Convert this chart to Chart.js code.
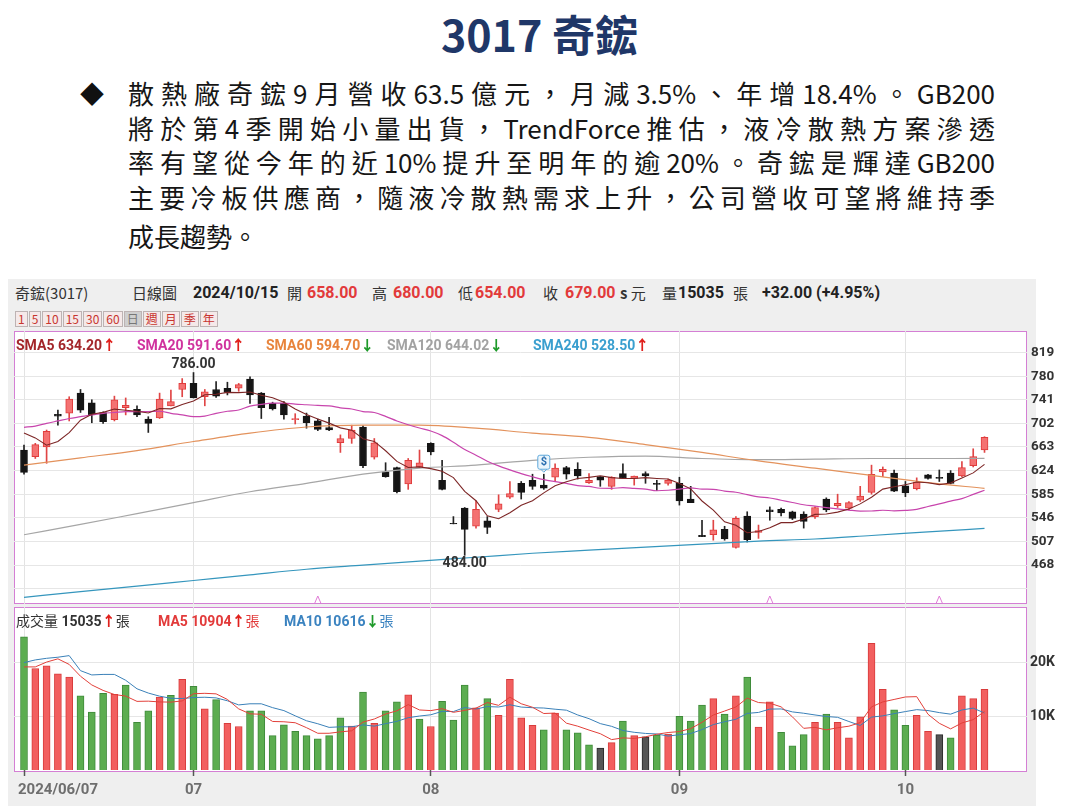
<!DOCTYPE html>
<html lang="zh-Hant">
<head>
<meta charset="utf-8">
<title>3017 奇鋐</title>
<script src="https://cdn.jsdelivr.net/npm/chart.js@4.4.1/dist/chart.umd.min.js"></script>
<style>
  html, body { margin: 0; padding: 0; }
  body { width: 1079px; height: 806px; position: relative; overflow: hidden; background: #fff;
         font-family: "Noto Sans CJK TC", "Noto Sans", sans-serif; }
  .abs { position: absolute; white-space: nowrap; }
  #title { left: 0; top: 5px; width: 1079px; text-align: center; font-size: 43px; font-weight: 700;
           color: #1f3768; line-height: 56px; }
  #bullet { left: 80px; top: 78px; font-size: 24px; line-height: 30px; color: #111; }
  .para { position: absolute; left: 128px; width: 867px; height: 36px; line-height: 36px; font-size: 26px;
          color: #161616; text-align: justify; text-align-last: justify; }
  .para.last { text-align-last: left; }
  #board { left: 8px; top: 279px; width: 1028px; height: 527px; background: #efefef; }
  .panel { position: absolute; box-sizing: border-box; border: 1.5px solid #d47fd4; background: #fff; }
  #pp { left: 14px; top: 331px; width: 1013px; height: 273px; }
  #vp { left: 14px; top: 607px; width: 1013px; height: 165px; }
  canvas { position: absolute; }
  #price { left: 14px; top: 331px; width: 1056px; height: 273px; }
  #vol { left: 14px; top: 607px; width: 1056px; height: 199px; }
  .info { top: 283px; font-size: 15px; line-height: 20px; color: #333; }
  .num { font-family: Roboto, sans-serif; font-weight: 700; font-size: 16px; }
  .red { color: #e23a3a; }
  #periods { left: 15px; top: 311px; font-size: 12px; line-height: 14px; }
  #periods span { display: inline-block; border: 1px solid #bdb3b3; background: #f5e9e9; color: #c8352f;
                  padding: 0 2px; margin-right: 1px; }
  #periods span.on { background: #cfcfcf; color: #777; }
  .lg { top: 336px; font-family: Roboto, "Noto Sans CJK TC", sans-serif; font-weight: 700; font-size: 14px; line-height: 18px; }
  .vl { top: 612px; font-family: Roboto, "Noto Sans CJK TC", sans-serif; font-size: 14px; line-height: 18px; }
  .up { color: #e0201c; font-weight: 900; }
  .dn { color: #1e9a2a; font-weight: 900; }
</style>
</head>
<body>
<div id="title" class="abs">3017 奇鋐</div>
<div id="bullet" class="abs">◆</div>
<div class="para" style="top:75px">散熱廠奇鋐9月營收63.5億元，月減3.5%、年增18.4%。GB200</div>
<div class="para" style="top:110px">將於第4季開始小量出貨，TrendForce推估，液冷散熱方案滲透</div>
<div class="para" style="top:144px">率有望從今年的近10%提升至明年的逾20%。奇鋐是輝達GB200</div>
<div class="para" style="top:179px">主要冷板供應商，隨液冷散熱需求上升，公司營收可望將維持季</div>
<div class="para last" style="top:218px">成長趨勢。</div>

<div id="board" class="abs"></div>
<div class="abs info" style="left:15px">奇鋐(3017)</div>
<div class="abs info" style="left:132px">日線圖</div>
<div class="abs info num" style="left:193px;color:#222">2024/10/15</div>
<div class="abs info" style="left:287px">開</div>
<div class="abs info num red" id="iO" style="left:307px"></div>
<div class="abs info" style="left:372px">高</div>
<div class="abs info num red" id="iH" style="left:393px"></div>
<div class="abs info" style="left:458px">低</div>
<div class="abs info num red" id="iL" style="left:475px"></div>
<div class="abs info" style="left:543px">收</div>
<div class="abs info num red" id="iC" style="left:565px"></div>
<div class="abs info" style="left:620px"><b>s</b> 元</div>
<div class="abs info" style="left:662px">量</div>
<div class="abs info num" id="iV" style="left:678px;color:#222"></div>
<div class="abs info" style="left:733px">張</div>
<div class="abs info num" id="iD" style="left:762px;color:#222"></div>
<div id="periods" class="abs"><span>1</span><span>5</span><span>10</span><span>15</span><span>30</span><span>60</span><span class="on">日</span><span>週</span><span>月</span><span>季</span><span>年</span></div>

<div id="pp" class="panel"></div>
<div id="vp" class="panel"></div>
<canvas id="price" width="1056" height="273"></canvas>
<canvas id="vol" width="1056" height="199"></canvas>

<div class="abs lg" id="l5" style="left:16px;color:#a3262a"></div>
<div class="abs lg" id="l20" style="left:137px;color:#d0329e"></div>
<div class="abs lg" id="l60" style="left:266px;color:#e8843c"></div>
<div class="abs lg" id="l120" style="left:387px;color:#a2a2a2"></div>
<div class="abs lg" id="l240" style="left:533px;color:#3a9fcf"></div>
<div class="abs vl" id="vl0" style="left:16px;color:#333"></div>
<div class="abs vl" id="vl5" style="left:158px;color:#e23a3a;font-weight:700"></div>
<div class="abs vl" id="vl10" style="left:284px;color:#3b83c0;font-weight:700"></div>

<script>
// trading days 2024/06/07 - 2024/10/15
const dates = [
  '06/07','06/11','06/12','06/13','06/14','06/17','06/18','06/19','06/20','06/21',
  '06/24','06/25','06/26','06/27','06/28','07/01','07/02','07/03','07/04','07/05',
  '07/08','07/09','07/10','07/11','07/12','07/15','07/16','07/17','07/18','07/19',
  '07/22','07/23','07/26','07/29','07/30','07/31','08/01','08/02','08/05','08/06',
  '08/07','08/08','08/09','08/12','08/13','08/14','08/15','08/16','08/19','08/20',
  '08/21','08/22','08/23','08/26','08/27','08/28','08/29','08/30','09/02','09/03',
  '09/04','09/05','09/06','09/09','09/10','09/11','09/12','09/13','09/16','09/18',
  '09/19','09/20','09/23','09/24','09/25','09/26','09/27','09/30','10/01','10/04',
  '10/07','10/08','10/09','10/11','10/14','10/15'
];
const opens = [658,647,663,717,719,752,736,720,708,728, 725,709,711,731,758,768,746,758,760,760,
  775,752,735,735,708,714,706,695,670,677, 696,646,622,629,602,630,669,608,537,562,
  532,541,560,580,603,608,600,613,629,626, 604,614,598,619,611,619,603,603,603,577,
  517,518,527,497,549,522,559,560,556,552, 548,577,566,562,575,588,622,620,599,594,
  617,613,620,615,632,658];
const highs = [666,669,691,724,746,758,741,721,747,744, 731,713,752,757,776,786,758,771,770,768,
  779,753,737,738,718,719,709,712,683,699, 698,677,637,630,644,658,670,641,548,563,
  574,548,584,606,606,618,618,635,631,637, 619,614,614,635,615,622,608,610,613,598,
  542,542,532,548,556,534,564,562,557,556, 564,579,585,573,598,633,630,625,606,612,
  618,625,624,639,660,680];
const lows = [618,644,636,699,706,720,703,702,706,716, 713,687,710,731,746,744,731,745,749,755,
  735,710,724,709,701,694,690,690,654,669, 629,643,613,587,593,629,650,592,536,484,
  529,520,556,578,577,593,593,606,610,610, 603,598,593,611,600,603,591,600,567,571,
  515,509,509,496,506,512,542,549,543,529, 545,556,563,559,573,585,614,589,581,592,
  610,606,602,614,630,654];
const closes = [621,667,689,714,742,724,716,705,741,732, 716,702,742,738,768,744,754,747,753,766,
  749,728,726,716,710,703,692,691,677,691, 632,670,614,589,641,637,655,593,536,527,
  560,530,569,586,588,598,595,628,618,615, 608,608,613,611,615,615,601,608,574,571,
  515,526,511,545,510,525,556,554,545,540, 563,559,570,571,582,618,626,590,587,605,
  611,611,603,629,647,679];
const volumes = [24800,18900,19400,17900,17300,13800,10800,14300,14100,15800,
  8900,11000,13600,13900,16900,15600,11400,13100,8700,8100,
  11000,11000,6400,8400,7200,6400,5800,6400,9700,8200,
  14500,8700,11000,12700,14000,9500,8100,12800,9300,15800,
  11600,13300,10200,16900,9700,8300,7500,10600,7500,6900,
  4700,4100,5100,9100,6400,6200,6500,6700,10000,9100,
  12100,13300,10400,13800,17300,8000,12700,7000,4500,6600,
  8900,10400,8900,6000,9900,23600,15000,11200,8300,10200,
  7200,6600,6000,13800,13300,15035];

// moving averages
const sma5 = [686,678,666,672,686.6,707.2,717,720.2,725.6,723.6,
  722,719.2,726.6,726,733.2,738.8,749.2,750.2,753.2,752.8,
  753.8,748.6,744.4,737,725.8,716.6,709.4,702.4,694.6,690.8,
  676.6,672.2,656.8,639.2,629.2,630.2,627.2,623,612.4,589.6,
  574.2,549.2,544.4,554.4,566.6,574.2,587.2,599,605.4,610.8,
  612.8,615.4,612.4,611,611,612.4,611,610,602.6,593.8,
  573.8,558.8,539.4,533.6,521.4,523.4,529.4,538,538,544,
  551.6,552.2,555.4,560.6,569,580,593.4,597.4,600.6,605.2,
  603.8,600.8,603.4,611.8,620.2,634.2];
const sma20 = [695.5,697.6,702,706,710,713,716,718.6,720,721.5,
  721.5,721.5,722,718.6,716,713,714,718.6,722,724.1,
  730.5,733.5,735.4,735.5,733.9,732.8,731.6,730.9,727.7,725.7,
  721.5,719.9,713.5,706,699.7,694.3,689.4,681.7,670.8,658.9,
  649.4,639.5,631.7,625.2,619.1,613.8,609,605.8,602.9,599.1,
  597.9,594.8,594.7,595.8,594.5,593.4,590.7,591.5,593.4,595.6,
  593.3,593.1,590.2,588.2,584.3,580.6,578.7,575,571.3,567.6,
  565.3,562.9,560.7,558.7,557.1,557.2,558.5,557.6,558.2,559.9,
  564.7,569,573.6,577.8,584.6,591.6];
// long averages, read every 5th day
const longDays = [0,5,10,15,20,25,30,35,40,45,50,55,60,65,70,75,80,85];
const sma60  = [633,645,657,672,686,696,699,699,694,686,679,667,654,640,628,616,604,594.7];
const sma120 = [518,535,553,571,589,603,618,628,633,641,646,648,644,642,643,644,644,644.02];
const sma240 = [414.6,424,433,442.4,451.8,461,467.7,474.3,480.8,487.4,492.5,497.5,502.5,507.5,511,516.8,522.7,528.5];

const volMA5 = [19200,19200,20100,20700,19660,17460,15840,14820,14060,13760,
  12780,12820,12680,12640,12860,14200,14280,14180,13140,11380,
  10460,10380,9040,8980,8800,7880,6840,6840,7100,7300,
  8920,9500,10420,11020,12180,11180,11060,11420,10740,11100,
  11520,12560,12040,13560,12340,11680,10520,10600,8720,8160,
  7440,6760,5660,5980,5880,6180,6660,6980,7160,7700,
  8880,10240,10980,11740,13380,12560,12440,11760,9900,7760,
  7940,7480,7860,8160,8820,11760,12680,13140,13600,13660,
  10380,8700,7660,8760,9380,10904];
const volMA10 = [20000,20500,20800,21000,21300,18500,17700,17800,17800,16710,
  15120,14330,13750,13350,13310,13490,13550,13430,12890,12120,
  12330,12330,11610,11060,10090,9170,8610,7940,8040,8050,
  8400,8170,8630,9060,9740,10050,10280,10920,10880,11640,
  11350,11810,11730,12150,11720,11600,11540,11320,11140,10250,
  9560,8640,8130,7350,7020,6810,6710,6320,6570,6790,
  7530,8450,8980,9450,10540,10720,11340,11370,10820,10570,
  10250,9960,9810,9030,8290,9850,10080,10500,10880,11240,
  11070,10690,10400,11180,11520,10616];

const priceGrid = [429,468,507,546,585,624,663,702,741,780,819];
const volTicks = [10000,20000];
const xTickLabels = ['2024/06/07','07','08','09','10'];
const dividendDay = 46;
const markDays = [26,66,81];

const days = dates.map((d, i) => i);
const monthIdx = days.filter(i => i === 0 || dates[i].slice(0, 2) !== dates[i - 1].slice(0, 2));
const xMin = -0.885, xMax = 88.76;

// info bar and legends from the data
const last = days.length - 1;
const f2 = v => v.toFixed(2);
document.getElementById('iO').textContent = f2(opens[last]);
document.getElementById('iH').textContent = f2(highs[last]);
document.getElementById('iL').textContent = f2(lows[last]);
document.getElementById('iC').textContent = f2(closes[last]);
document.getElementById('iV').textContent = volumes[last];
const chg = closes[last] - closes[last - 1];
document.getElementById('iD').textContent = '+' + f2(chg) + ' (+' + f2(chg / closes[last - 1] * 100) + '%)';
const UP = '<span class="up">↑</span>', DN = '<span class="dn">↓</span>';
document.getElementById('l5').innerHTML = 'SMA5 ' + f2(sma5[last]) + UP;
document.getElementById('l20').innerHTML = 'SMA20 ' + f2(sma20[last]) + UP;
document.getElementById('l60').innerHTML = 'SMA60 ' + f2(sma60[sma60.length - 1]) + DN;
document.getElementById('l120').innerHTML = 'SMA120 ' + f2(sma120[sma120.length - 1]) + DN;
document.getElementById('l240').innerHTML = 'SMA240 ' + f2(sma240[sma240.length - 1]) + UP;
document.getElementById('vl0').innerHTML = '成交量 <b>' + volumes[last] + '</b>' + UP + '張';
document.getElementById('vl5').innerHTML = 'MA5 ' + volMA5[last] + UP + '<span style="font-weight:400">張</span>';
document.getElementById('vl10').innerHTML = 'MA10 ' + volMA10[last] + DN + '<span style="font-weight:400">張</span>';

const isUp = days.map(i => closes[i] > opens[i]);
const volColor = days.map(i => i === 0 ? 'dn' : closes[i] > closes[i - 1] ? 'up' : closes[i] < closes[i - 1] ? 'dn' : 'eq');

function lineSet(xs, ys, color, width, smooth) {
  return {
    type: 'line', data: xs.map((x, k) => ({ x: x, y: ys[k] })),
    borderColor: color, borderWidth: width, pointRadius: 0, fill: false, order: 0,
    cubicInterpolationMode: smooth ? 'monotone' : 'default', tension: 0
  };
}

const xScale = (extra) => Object.assign({
  type: 'linear', min: xMin, max: xMax, offset: false,
  afterBuildTicks: s => { s.ticks = monthIdx.map(v => ({ value: v })); },
  ticks: { display: false },
  border: { display: false }
}, extra);

// right axis with fixed width and no label overhang padding
const fitRight = s => { s.width = 43; s.paddingTop = 0; s.paddingBottom = 0; };

const priceMarks = {
  id: 'priceMarks',
  afterDatasetsDraw(chart) {
    const { ctx, chartArea, scales: { x, y } } = chart;
    ctx.save();
    ctx.font = 'bold 14px Roboto, sans-serif';
    ctx.fillStyle = '#333';
    ctx.textAlign = 'center';
    const hi = highs.indexOf(Math.max(...highs));
    const lo = lows.indexOf(Math.min(...lows));
    ctx.textBaseline = 'bottom';
    ctx.fillText(f2(highs[hi]), x.getPixelForValue(hi), y.getPixelForValue(highs[hi]) - 1);
    ctx.textBaseline = 'top';
    ctx.fillText(f2(lows[lo]), x.getPixelForValue(lo), y.getPixelForValue(lows[lo]) + 1);

    // dividend tag
    const dx = x.getPixelForValue(dividendDay), dy = y.getPixelForValue(highs[dividendDay]) - 12;
    ctx.fillStyle = '#eaf5fc';
    ctx.strokeStyle = '#5ea9dc';
    ctx.lineWidth = 1;
    ctx.beginPath();
    ctx.roundRect(dx - 6, dy - 7, 12, 14, 2);
    ctx.fill();
    ctx.stroke();
    ctx.beginPath();
    ctx.moveTo(dx - 3, dy + 7); ctx.lineTo(dx, dy + 10); ctx.lineTo(dx + 3, dy + 7);
    ctx.stroke();
    ctx.fillStyle = '#2a6fb0';
    ctx.font = 'bold 11px Roboto, sans-serif';
    ctx.textBaseline = 'middle';
    ctx.fillText('$', dx, dy);

    ctx.strokeStyle = '#e07bd6';
    markDays.forEach(d => {
      const mx = x.getPixelForValue(d), b = chartArea.bottom - 1;
      ctx.beginPath();
      ctx.moveTo(mx - 3, b); ctx.lineTo(mx, b - 7); ctx.lineTo(mx + 3, b);
      ctx.stroke();
    });
    ctx.restore();
  }
};

new Chart(document.getElementById('price'), {
  type: 'bar',
  data: {
    datasets: [
      lineSet(days, sma5, '#7d2626', 1.1, false),
      lineSet(days, sma20, '#c845ad', 1.2, true),
      lineSet(longDays, sma60, '#e3925c', 1.2, true),
      lineSet(longDays, sma120, '#a6a6a6', 1.2, true),
      lineSet(longDays, sma240, '#3596bd', 1.2, true),
      {
        type: 'bar', order: 1, grouped: false, barThickness: 7, borderWidth: 1, borderSkipped: false,
        data: days.map(i => ({ x: i, y: [opens[i], closes[i]] })),
        backgroundColor: days.map(i => isUp[i] ? '#f47272' : '#151515'),
        borderColor: days.map(i => isUp[i] ? '#e03c3c' : '#151515')
      },
      {
        type: 'bar', order: 2, grouped: false, barThickness: 1,
        data: days.map(i => ({ x: i, y: [lows[i], highs[i]] })),
        backgroundColor: days.map(i => isUp[i] ? '#e04545' : '#222')
      }
    ]
  },
  options: {
    responsive: false, animation: false, events: [],
    layout: { padding: 0 },
    plugins: { legend: { display: false }, tooltip: { enabled: false } },
    scales: {
      x: xScale({
        afterFit: s => { s.height = 0; },
        grid: { color: '#e3e3e3', offset: false, drawTicks: false }
      }),
      y: {
        position: 'right', min: 403.6, max: 854.6,
        afterBuildTicks: s => { s.ticks = priceGrid.map(v => ({ value: v })); },
        afterFit: fitRight,
        ticks: {
          padding: 4, color: '#333', font: { family: 'Roboto', weight: 'bold', size: 13.5 },
          callback: v => v >= 468 ? v : ''
        },
        grid: { color: '#e6e6e6', drawTicks: false },
        border: { display: false }
      }
    }
  },
  plugins: [priceMarks]
});

const dateLabels = {
  id: 'dateLabels',
  afterDraw(chart) {
    const { ctx, chartArea, scales: { x } } = chart;
    ctx.save();
    ctx.font = 'bold 15px Roboto, sans-serif';
    ctx.fillStyle = '#6e6e6e';
    ctx.textBaseline = 'middle';
    monthIdx.forEach((d, k) => {
      const px = x.getPixelForValue(d);
      ctx.textAlign = k === 0 ? 'left' : 'center';
      ctx.fillText(xTickLabels[k], k === 0 ? px - 6 : px, chartArea.bottom + 20);
    });
    ctx.restore();
  }
};

const volFill = { up: '#f25f5f', dn: '#5cad50', eq: '#555' };
const volEdge = { up: '#d83c3c', dn: '#3f8a3a', eq: '#2a2a2a' };

new Chart(document.getElementById('vol'), {
  type: 'bar',
  data: {
    datasets: [
      lineSet(days, volMA5, '#e2403a', 1, false),
      lineSet(days, volMA10, '#3a80b8', 1, false),
      {
        type: 'bar', order: 1, grouped: false, barThickness: 7, borderWidth: 1, borderSkipped: 'bottom',
        data: days.map(i => ({ x: i, y: volumes[i] })),
        backgroundColor: days.map(i => volFill[volColor[i]]),
        borderColor: days.map(i => volEdge[volColor[i]])
      }
    ]
  },
  options: {
    responsive: false, animation: false, events: [],
    layout: { padding: 0 },
    plugins: { legend: { display: false }, tooltip: { enabled: false } },
    scales: {
      x: xScale({
        afterFit: s => { s.height = 36; },
        grid: { color: '#e3e3e3', offset: false, drawTicks: true, tickLength: 6, tickColor: '#555', tickWidth: 1.5 }
      }),
      y: {
        position: 'right', min: 0, max: 30354,
        afterBuildTicks: s => { s.ticks = volTicks.map(v => ({ value: v })); },
        afterFit: fitRight,
        ticks: {
          padding: 3, color: '#333', font: { family: 'Roboto', weight: 'bold', size: 14 },
          callback: v => (v / 1000) + 'K'
        },
        grid: { color: '#e6e6e6', drawTicks: false },
        border: { display: false }
      }
    }
  },
  plugins: [dateLabels]
});
</script>
</body>
</html>
